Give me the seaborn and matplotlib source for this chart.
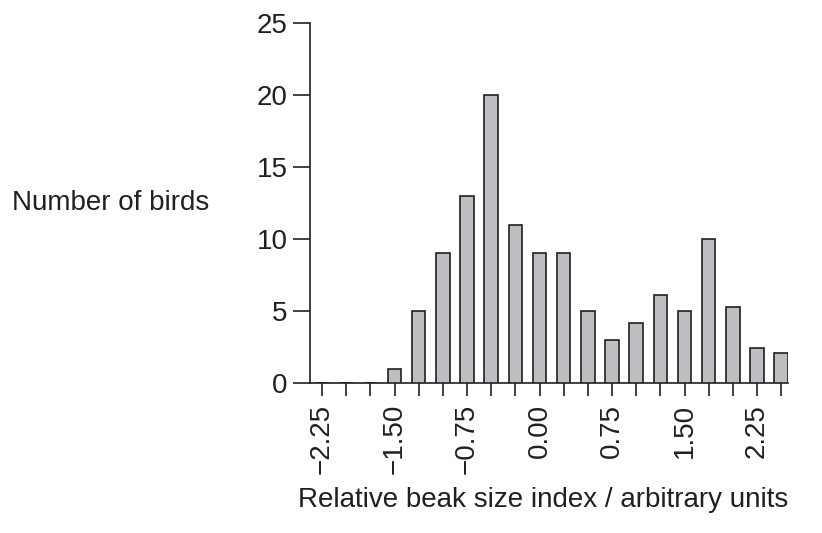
import matplotlib
matplotlib.use("Agg")
import matplotlib.pyplot as plt
import seaborn as sns
import pandas as pd

centers = [-2.25, -2.0, -1.75, -1.5, -1.25, -1.0, -0.75, -0.5, -0.25, 0.0, 0.25, 0.5, 0.75, 1.0, 1.25, 1.5, 1.75, 2.0, 2.25, 2.5]
counts = [0, 0, 0, 1, 5, 9, 13, 20, 11, 9, 9, 5, 3, 4.15, 6.1, 5, 10, 5.3, 2.45, 2.05]
tick_labels = ["\u22122.25", "\u22121.50", "\u22120.75", "0.00", "0.75", "1.50", "2.25"]
tick_vals = [-2.25, -1.5, -0.75, 0.0, 0.75, 1.5, 2.25]

sns.set_style("ticks")
plt.rcParams['font.family'] = ['Liberation Sans', 'DejaVu Sans']
df = pd.DataFrame({"x": centers, "y": counts})

fig = plt.figure(figsize=(8.22, 5.33), dpi=100)
ax = fig.add_axes([310/822, 1-383/533, (788-310)/822, (383-23)/533])
ax.bar(df["x"], df["y"], width=0.14, color="#bdbec2", edgecolor="#231f20", linewidth=1.2, zorder=3)
ax.set_xlim(-2.374, 2.57)
ax.set_ylim(0, 25)
ax.set_yticks([0, 5, 10, 15, 20, 25])
ax.set_xticks(centers)
ax.set_xticklabels([tick_labels[tick_vals.index(c)] if c in tick_vals else "" for c in centers], rotation=90, fontsize=20)
ax.tick_params(axis='y', labelsize=20, length=12, width=1.2, color="#231f20", labelcolor="#231f20", pad=4)
ax.tick_params(axis='x', length=9, width=1.2, color="#231f20", labelcolor="#231f20", pad=6)
sns.despine(ax=ax)
for s in ("left", "bottom"):
    ax.spines[s].set_linewidth(1.2)
    ax.spines[s].set_color("#231f20")
fig.text(12/822, 1-203/533, "Number of birds", fontsize=20, color="#231f20", ha="left", va="center")
fig.text(543/822, 1-500/533, "Relative beak size index / arbitrary units", fontsize=20, color="#231f20", ha="center", va="center")
fig.savefig("out.png", dpi=100)
